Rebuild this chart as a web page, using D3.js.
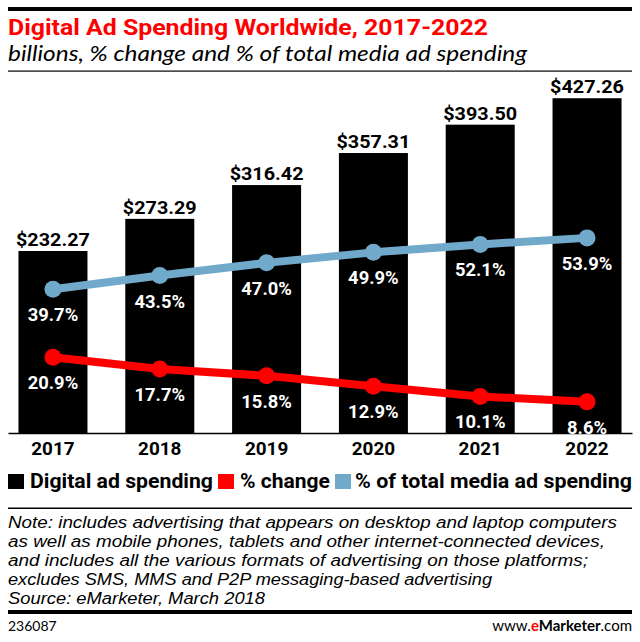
<!DOCTYPE html>
<html>
<head>
<meta charset="utf-8">
<script src="https://cdn.jsdelivr.net/npm/d3@7"></script>
<style>
  html, body { margin: 0; padding: 0; background: #fff; }
  svg { display: block; }
</style>
</head>
<body>
<svg id="chart" width="640" height="642"></svg>
<script>
// ---------- DATA ----------
const years = ["2017", "2018", "2019", "2020", "2021", "2022"];
const spending = [232.27, 273.29, 316.42, 357.31, 393.50, 427.26];
const pctChange = [20.9, 17.7, 15.8, 12.9, 10.1, 8.6];
const pctOfTotal = [39.7, 43.5, 47.0, 49.9, 52.1, 53.9];
const legendLabels = ["Digital ad spending", "% change", "% of total media ad spending"];
const titleText = "Digital Ad Spending Worldwide, 2017-2022";
const subtitleText = "billions, % change and % of total media ad spending";
const noteLines = [
  "Note: includes advertising that appears on desktop and laptop computers",
  "as well as mobile phones, tablets and other internet-connected devices,",
  "and includes all the various formats of advertising on those platforms;",
  "excludes SMS, MMS and P2P messaging-based advertising",
  "Source: eMarketer, March 2018"
];
const chartId = "236087";

// ---------- STYLE / LAYOUT ----------
const RED = "#ff0000";
const BLUE = "#70a9ca";
const BOLD = "Roboto, 'Liberation Sans', sans-serif";
const ITAL = "Lato, 'Open Sans', sans-serif";
const NOTE = "'Liberation Sans', Arial, sans-serif";

const svg = d3.select("#chart");

function fitWidth(sel, w) {
  sel.each(function () {
    const n = this.getComputedTextLength();
    if (Math.abs(n - w) > 0.5) {
      this.setAttribute("textLength", w);
      this.setAttribute("lengthAdjust", "spacingAndGlyphs");
    }
  });
}
function scaleWidth(sel, f) {
  sel.each(function () {
    const n = this.getComputedTextLength();
    this.setAttribute("textLength", n * f);
    this.setAttribute("lengthAdjust", "spacingAndGlyphs");
  });
}

// Header rules
svg.append("rect").attr("x", 8).attr("y", 7).attr("width", 624).attr("height", 4).attr("fill", "#000");
svg.append("rect").attr("x", 8).attr("y", 70.5).attr("width", 624).attr("height", 1.2).attr("fill", "#000");

// Title & subtitle
svg.append("text").attr("x", 8).attr("y", 35)
  .attr("font-family", BOLD).attr("font-weight", 700).attr("font-size", 21.5)
  .attr("fill", RED).text(titleText).call(fitWidth, 480);
svg.append("text").attr("x", 8).attr("y", 61)
  .attr("font-family", ITAL).attr("font-style", "italic").attr("font-size", 20.5)
  .attr("fill", "#000").text(subtitleText).call(fitWidth, 519);

// Scales
const x = d3.scaleBand().domain(years).range([8, 632]).paddingInner(0.354).paddingOuter(0.098);
const yMoney = d3.scaleLinear().domain([0, 462]).range([433, 71]);
const yPct = d3.scaleLinear().domain([0, 100]).range([433, 71]);

const rows = years.map((yr, i) => ({ yr, s: spending[i], c: pctChange[i], t: pctOfTotal[i] }));

// Bars
svg.append("g").selectAll("rect").data(rows).join("rect")
  .attr("x", d => x(d.yr)).attr("width", x.bandwidth())
  .attr("y", d => yMoney(d.s)).attr("height", d => yMoney(0) - yMoney(d.s))
  .attr("fill", "#000");

// Bar value labels
const fmtMoney = d3.format("$.2f");
svg.append("g").selectAll("text").data(rows).join("text")
  .attr("x", d => x(d.yr) + x.bandwidth() / 2)
  .attr("y", d => yMoney(d.s) - 5)
  .attr("text-anchor", "middle")
  .attr("font-family", BOLD).attr("font-weight", 700).attr("font-size", 18.5)
  .attr("fill", "#000").text(d => fmtMoney(d.s))
  .call(scaleWidth, 1.07);

// Axis
const axis = svg.append("g").attr("transform", "translate(0,433)")
  .call(d3.axisBottom(x).tickSize(0).tickSizeOuter(0).tickPadding(9));
axis.select(".domain").attr("stroke", "#000").attr("stroke-width", 1.5);
axis.selectAll("text").attr("font-family", BOLD).attr("font-weight", 700)
  .attr("font-size", 18).attr("fill", "#000").call(scaleWidth, 1.05);

// Lines
const cx = d => x(d.yr) + x.bandwidth() / 2;
function drawSeries(key, color) {
  const line = d3.line().x(cx).y(d => yPct(d[key]));
  svg.append("path").datum(rows).attr("d", line)
    .attr("fill", "none").attr("stroke", color).attr("stroke-width", 8)
    .attr("stroke-linejoin", "round");
  svg.append("g").selectAll("circle").data(rows).join("circle")
    .attr("cx", cx).attr("cy", d => yPct(d[key])).attr("r", 8.5).attr("fill", color);
  svg.append("g").selectAll("text").data(rows).join("text")
    .attr("x", cx).attr("y", d => yPct(d[key]) + 32)
    .attr("text-anchor", "middle")
    .attr("font-family", BOLD).attr("font-weight", 700).attr("font-size", 17.5)
    .attr("fill", "#fff").text(d => d[key].toFixed(1) + "%")
    .call(scaleWidth, 1.05);
}
drawSeries("t", BLUE);
drawSeries("c", RED);

// Legend
const legendColors = ["#000", RED, BLUE];
const legendSquareX = [8, 218, 335];
const legendTextX = [30, 240, 355];
const legendTextW = [183, 90, 277];
legendLabels.forEach((lab, i) => {
  svg.append("rect").attr("x", legendSquareX[i]).attr("y", 474)
    .attr("width", 16).attr("height", 15).attr("fill", legendColors[i]);
  svg.append("text").attr("x", legendTextX[i]).attr("y", 488)
    .attr("font-family", BOLD).attr("font-weight", 700).attr("font-size", 21)
    .attr("fill", "#000").text(lab).call(fitWidth, legendTextW[i]);
});

// Rules around note
svg.append("rect").attr("x", 8).attr("y", 507.5).attr("width", 624).attr("height", 1.5).attr("fill", "#000");
svg.append("rect").attr("x", 8).attr("y", 610).attr("width", 624).attr("height", 4).attr("fill", "#000");

// Notes
const noteW = [609, 597, 580, 484, 257];
noteLines.forEach((ln, i) => {
  svg.append("text").attr("x", 8).attr("y", 528 + i * 19.1)
    .attr("font-family", NOTE).attr("font-style", "italic").attr("font-size", 16.8)
    .attr("fill", "#000").text(ln).call(fitWidth, noteW[i]);
});

// Footer
svg.append("text").attr("x", 8).attr("y", 631)
  .attr("font-family", ITAL).attr("font-size", 14).attr("fill", "#000").text(chartId);
const site = svg.append("text").attr("x", 632).attr("y", 631).attr("text-anchor", "end")
  .attr("font-family", ITAL).attr("font-size", 15).attr("fill", "#000");
site.append("tspan").text("www.");
site.append("tspan").attr("fill", RED).attr("font-weight", 700).text("e");
site.append("tspan").attr("font-weight", 700).text("Marketer");
site.append("tspan").text(".com");
</script>
</body>
</html>
